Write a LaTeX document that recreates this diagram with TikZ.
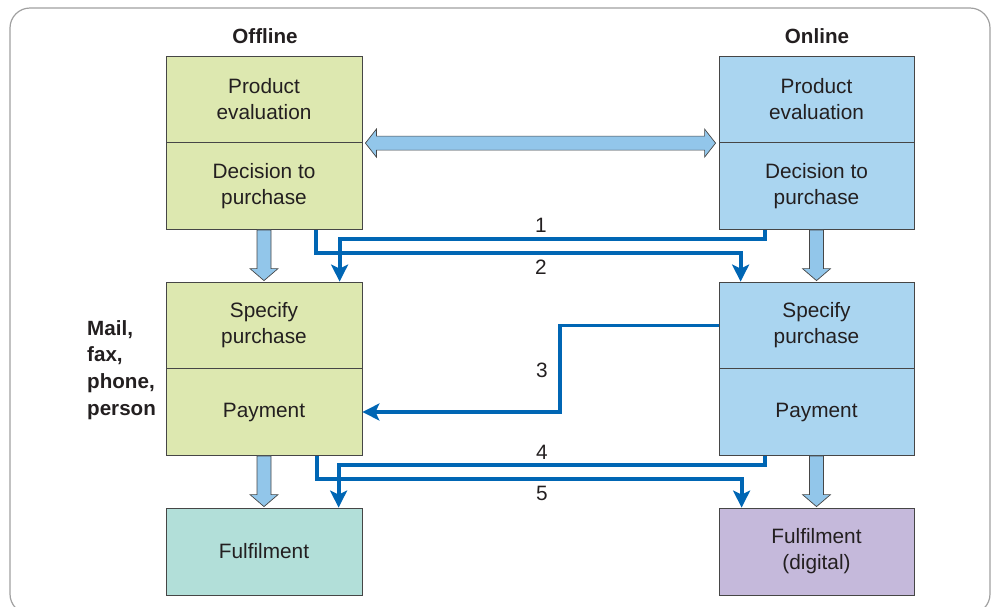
\documentclass[tikz,border=0pt]{standalone}
\usepackage{fontspec}
\setmainfont{Liberation Sans}
\usetikzlibrary{arrows.meta,calc}

\definecolor{offgreen}{RGB}{221,232,176}
\definecolor{onblue}{RGB}{170,213,240}
\definecolor{fulteal}{RGB}{178,223,217}
\definecolor{fulpurple}{RGB}{197,185,219}
\definecolor{fatfill}{RGB}{146,198,234}
\definecolor{flowblue}{RGB}{0,102,180}
\definecolor{ink}{RGB}{35,31,32}
\definecolor{edge}{RGB}{70,70,70}
\definecolor{framegray}{RGB}{160,160,160}

\tikzset{
  box/.style={draw=edge, line width=0.8pt, minimum width=196pt, align=center,
    inner sep=0pt, text=ink, font=\fontsize{20.8}{26}\selectfont},
  half/.style={box, minimum height=87pt},
  fat/.style={draw=edge, line width=0.7pt, fill=fatfill, line join=miter},
  flow/.style={draw=flowblue, line width=3.8pt, line join=miter,
    -{Stealth[length=17pt, width=17pt, inset=4pt]}},
  num/.style={text=ink, font=\fontsize{20.8}{24}\selectfont, inner sep=0pt},
  head/.style={text=ink, font=\fontsize{20.6}{24}\selectfont\bfseries, inner sep=0pt},
  frame/.style={draw=framegray, line width=1.2pt, rounded corners=20pt}
}

% broad vertical arrow from the bottom of one box to the top of the next
\newcommand\fatdown[2]{%
  \draw[fat] let \p1=(#1.south), \p2=(#2.north) in
    (\x1-7pt,\y1) -- (\x1-7pt,\y2+13pt) -- (\x1-14pt,\y2+13pt) -- (\x1,\y2+1pt)
    -- (\x1+14pt,\y2+13pt) -- (\x1+7pt,\y2+13pt) -- (\x1+7pt,\y1) -- cycle;}

\begin{document}
\begin{tikzpicture}[x=1pt,y=-1pt]
\useasboundingbox (0,0) rectangle (996,606);
\draw[frame] (10,8) rectangle (990,614);

% column headings
\node[head] (offh) at (265,36) {Offline};
\node[head] (onh) at (817,36) {Online};

% offline column
\node[half, fill=offgreen] (pe_off) at (264,99.5) {Product\\evaluation};
\node[half, fill=offgreen] (dp_off) at (264,186) {Decision to\\purchase};
\node[half, fill=offgreen] (sp_off) at (264,325.5) {Specify\\purchase};
\node[half, fill=offgreen] (pay_off) at (264,412) {Payment};
\node[half, fill=fulteal] (ful_off) at (264,551.5) {Fulfilment};

% online column
\node[half, fill=onblue, minimum width=195pt] (pe_on) at (816.5,99.5) {Product\\evaluation};
\node[half, fill=onblue, minimum width=195pt] (dp_on) at (816.5,186) {Decision to\\purchase};
\node[half, fill=onblue, minimum width=195pt] (sp_on) at (816.5,325.5) {Specify\\purchase};
\node[half, fill=onblue, minimum width=195pt] (pay_on) at (816.5,412) {Payment};
\node[half, fill=fulpurple, minimum width=195pt] (ful_on) at (816.5,551.5) {Fulfilment\\(digital)};

% channels of the offline side
\node[head, align=left, anchor=west, font=\fontsize{20.6}{26.7}\selectfont\bfseries]
  (mail) at (87,370) {Mail,\\fax,\\phone,\\person};

% two-way link between evaluation stages
\draw[fat] let \p1=(dp_off.north east), \p2=(dp_on.north west) in
  (\x1+3pt,\y1-1pt) -- (\x1+14pt,\y1+13pt) -- (\x1+14pt,\y1+6pt)
  -- (\x2-14pt,\y1+6pt) -- (\x2-14pt,\y1+13pt) -- (\x2-3pt,\y1-1pt)
  -- (\x2-14pt,\y1-15pt) -- (\x2-14pt,\y1-8pt) -- (\x1+14pt,\y1-8pt)
  -- (\x1+14pt,\y1-15pt) -- cycle;

% stage-to-stage arrows within each column
\fatdown{dp_off}{sp_off}
\fatdown{pay_off}{ful_off}
\fatdown{dp_on}{sp_on}
\fatdown{pay_on}{ful_on}

% cross-channel routes
\draw[flow] ($(dp_on.south west)+(46,0)$) -- ++(0,9) -| ($(sp_off.north west)+(174,0)$);
\draw[flow] ($(dp_off.south west)+(150,0)$) -- ++(0,23) -| ($(sp_on.north west)+(22,0)$);
\draw[flow] (sp_on.west) -- ++(-159,0) |- (pay_off.east);
\draw[flow] ($(pay_on.south west)+(46,0)$) -- ++(0,9) -| ($(ful_off.north west)+(173,0)$);
\draw[flow] ($(pay_off.south west)+(151,0)$) -- ++(0,23) -| ($(ful_on.north west)+(23,0)$);

% route numbers
\node[num] (r1) at (541,225) {1};
\node[num] (r2) at (541,267) {2};
\node[num] (r3) at (542,370) {3};
\node[num] (r4) at (542,452) {4};
\node[num] (r5) at (542,493) {5};
\end{tikzpicture}
\end{document}
